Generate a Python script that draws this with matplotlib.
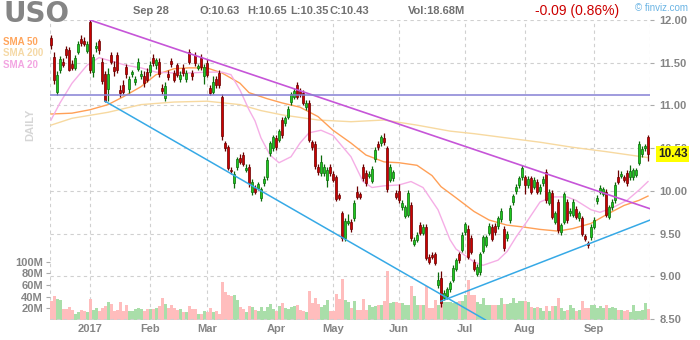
import numpy as np
import pandas as pd
import matplotlib
matplotlib.use("Agg")
import matplotlib.pyplot as plt
from matplotlib.ticker import FormatStrFormatter

# trading days shown on the chart
holidays = ["2016-12-26", "2017-01-02", "2017-01-16", "2017-02-20",
            "2017-04-14", "2017-05-29", "2017-07-04", "2017-09-04"]
dates = pd.bdate_range("2016-12-13", "2017-09-28")
dates = dates[~dates.isin(pd.to_datetime(holidays))]

opens = [
    11.79, 11.57, 11.16, 11.42, 11.51, 11.66, 11.65, 11.49, 11.44, 11.63,
    11.78, 11.75, 11.64, 11.98, 11.39, 11.67, 11.75, 11.51, 11.37, 11.19,
    11.59, 11.45, 11.59, 11.18, 11.24, 11.45, 11.19, 11.37, 11.27, 11.43,
    11.35, 11.34, 11.39, 11.39, 11.56, 11.47, 11.51, 11.21, 11.09, 11.37,
    11.52, 11.38, 11.47, 11.31, 11.44, 11.31, 11.63, 11.38, 11.59, 11.44,
    11.55, 11.34, 11.50, 11.20, 11.16, 11.31, 11.38, 11.10, 10.56, 10.51,
    10.25, 10.09, 10.28, 10.39, 10.42, 10.25, 10.28, 9.99, 10.04, 10.04,
    9.92, 10.09, 10.16, 10.44, 10.50, 10.62, 10.60, 10.83, 10.79, 10.87,
    11.04, 11.10, 11.24, 11.17, 11.15, 10.98, 11.03, 10.57, 10.55, 10.28,
    10.21, 10.21, 10.13, 10.28, 10.20, 10.16, 9.95, 9.74, 9.45, 9.63,
    9.64, 9.68, 9.99, 9.96, 10.28, 10.21, 10.18, 10.12, 10.37, 10.55,
    10.56, 10.62, 10.50, 10.13, 10.15, 9.98, 10.00, 9.81, 9.71, 9.72,
    9.84, 9.38, 9.43, 9.60, 9.51, 9.58, 9.23, 9.25, 9.26, 8.90,
    8.98, 8.75, 8.77, 8.85, 8.96, 9.09, 9.26, 9.31, 9.52, 9.56,
    9.45, 9.17, 9.03, 9.05, 9.30, 9.37, 9.51, 9.58, 9.59, 9.59,
    9.67, 9.56, 9.45, 9.66, 9.87, 10.00, 10.07, 10.16, 10.16, 10.07,
    10.15, 10.05, 10.11, 10.00, 10.09, 10.22, 9.86, 9.98, 9.64, 9.87,
    9.52, 9.64, 9.87, 9.74, 9.72, 9.79, 9.68, 9.68, 9.47, 9.39,
    9.46, 9.58, 9.88, 9.99, 9.97, 9.99, 9.70, 9.81, 9.89, 10.16,
    10.18, 10.16, 10.21, 10.16, 10.16, 10.19, 10.33, 10.43, 10.50, 10.63]

highs = [
    11.83, 11.62, 11.40, 11.58, 11.55, 11.70, 11.68, 11.53, 11.59, 11.75,
    11.82, 11.80, 11.76, 12.00, 11.60, 11.74, 11.78, 11.55, 11.40, 11.44,
    11.63, 11.52, 11.62, 11.24, 11.30, 11.48, 11.35, 11.42, 11.35, 11.56,
    11.42, 11.40, 11.44, 11.52, 11.60, 11.56, 11.55, 11.25, 11.27, 11.41,
    11.56, 11.42, 11.50, 11.40, 11.48, 11.42, 11.66, 11.42, 11.62, 11.49,
    11.60, 11.48, 11.54, 11.24, 11.35, 11.35, 11.42, 11.13, 10.59, 10.54,
    10.28, 10.23, 10.40, 10.43, 10.45, 10.32, 10.31, 10.14, 10.07, 10.11,
    10.05, 10.17, 10.40, 10.59, 10.66, 10.65, 10.73, 10.87, 10.88, 10.99,
    11.16, 11.20, 11.27, 11.21, 11.18, 11.06, 11.06, 10.60, 10.58, 10.31,
    10.42, 10.31, 10.28, 10.31, 10.23, 10.19, 9.98, 9.77, 9.68, 9.73,
    9.67, 9.89, 10.06, 9.99, 10.31, 10.24, 10.23, 10.29, 10.51, 10.58,
    10.66, 10.68, 10.53, 10.31, 10.25, 10.01, 10.08, 9.89, 9.84, 10.01,
    9.87, 9.46, 9.52, 9.64, 9.61, 9.61, 9.26, 9.28, 9.29, 9.05,
    9.06, 8.84, 8.88, 8.95, 9.13, 9.22, 9.29, 9.52, 9.64, 9.60,
    9.49, 9.20, 9.14, 9.29, 9.49, 9.49, 9.62, 9.61, 9.62, 9.71,
    9.80, 9.59, 9.53, 9.83, 9.97, 10.08, 10.18, 10.30, 10.19, 10.17,
    10.18, 10.16, 10.14, 10.08, 10.17, 10.26, 10.02, 10.01, 9.77, 9.90,
    9.63, 9.99, 9.90, 9.80, 9.90, 9.82, 9.77, 9.71, 9.50, 9.42,
    9.61, 9.69, 9.95, 10.07, 10.05, 10.02, 9.84, 9.90, 10.10, 10.25,
    10.23, 10.19, 10.24, 10.30, 10.27, 10.27, 10.58, 10.52, 10.55, 10.65]

lows = [
    11.66, 11.25, 11.12, 11.38, 11.45, 11.56, 11.40, 11.42, 11.41, 11.60,
    11.70, 11.69, 11.61, 11.38, 11.33, 11.63, 11.60, 11.25, 11.04, 11.05,
    11.48, 11.35, 11.38, 11.10, 11.13, 11.32, 11.15, 11.33, 11.24, 11.40,
    11.31, 11.22, 11.27, 11.35, 11.46, 11.43, 11.33, 11.13, 11.05, 11.30,
    11.45, 11.27, 11.33, 11.28, 11.35, 11.28, 11.48, 11.30, 11.46, 11.41,
    11.42, 11.25, 11.33, 11.12, 11.13, 11.21, 11.21, 10.60, 10.47, 10.24,
    10.20, 10.04, 10.25, 10.31, 10.29, 10.22, 10.05, 9.95, 9.96, 10.01,
    9.88, 10.06, 10.13, 10.41, 10.47, 10.48, 10.57, 10.62, 10.76, 10.84,
    11.01, 11.07, 11.07, 11.10, 11.00, 10.95, 10.57, 10.48, 10.26, 10.19,
    10.18, 10.18, 10.05, 10.18, 10.10, 9.88, 9.89, 9.42, 9.42, 9.60,
    9.52, 9.65, 9.90, 9.90, 10.12, 10.06, 10.15, 10.09, 10.34, 10.48,
    10.53, 10.54, 9.99, 10.10, 10.12, 9.90, 9.86, 9.78, 9.68, 9.69,
    9.42, 9.35, 9.40, 9.48, 9.48, 9.19, 9.14, 9.20, 9.13, 8.87,
    8.64, 8.72, 8.74, 8.82, 8.93, 9.06, 9.16, 9.28, 9.49, 9.20,
    9.26, 9.06, 9.00, 9.02, 9.27, 9.34, 9.48, 9.41, 9.49, 9.56,
    9.64, 9.30, 9.42, 9.63, 9.84, 9.97, 10.04, 10.13, 9.97, 10.04,
    9.96, 10.02, 9.96, 9.97, 10.06, 9.86, 9.83, 9.67, 9.61, 9.51,
    9.49, 9.61, 9.63, 9.71, 9.69, 9.67, 9.65, 9.47, 9.41, 9.33,
    9.43, 9.55, 9.85, 9.96, 9.94, 9.69, 9.67, 9.78, 9.86, 10.08,
    10.15, 10.10, 10.06, 10.13, 10.13, 10.16, 10.30, 10.40, 10.47, 10.35]

closes = [
    11.71, 11.30, 11.36, 11.54, 11.47, 11.59, 11.42, 11.44, 11.56, 11.72,
    11.73, 11.72, 11.72, 11.42, 11.57, 11.70, 11.65, 11.29, 11.05, 11.37,
    11.51, 11.40, 11.42, 11.15, 11.16, 11.37, 11.31, 11.39, 11.31, 11.51,
    11.37, 11.26, 11.30, 11.47, 11.50, 11.53, 11.37, 11.17, 11.23, 11.33,
    11.48, 11.30, 11.36, 11.36, 11.38, 11.38, 11.51, 11.34, 11.50, 11.46,
    11.45, 11.45, 11.36, 11.15, 11.28, 11.24, 11.24, 10.64, 10.50, 10.27,
    10.23, 10.20, 10.37, 10.34, 10.32, 10.27, 10.09, 10.11, 9.99, 10.08,
    10.02, 10.14, 10.36, 10.56, 10.63, 10.51, 10.70, 10.65, 10.85, 10.96,
    11.13, 11.17, 11.10, 11.13, 11.03, 11.03, 10.60, 10.51, 10.29, 10.22,
    10.34, 10.28, 10.25, 10.21, 10.13, 9.91, 9.92, 9.45, 9.65, 9.65,
    9.56, 9.86, 9.93, 9.93, 10.15, 10.09, 10.20, 10.26, 10.48, 10.51,
    10.63, 10.57, 10.02, 10.28, 10.22, 9.93, 9.89, 9.86, 9.81, 9.98,
    9.45, 9.43, 9.49, 9.51, 9.58, 9.22, 9.17, 9.23, 9.16, 8.96,
    8.69, 8.81, 8.85, 8.92, 9.10, 9.19, 9.19, 9.49, 9.61, 9.23,
    9.29, 9.09, 9.11, 9.26, 9.46, 9.46, 9.59, 9.44, 9.52, 9.68,
    9.77, 9.33, 9.50, 9.80, 9.94, 10.05, 10.15, 10.27, 10.07, 10.14,
    9.99, 10.13, 9.99, 10.05, 10.14, 9.89, 9.99, 9.70, 9.74, 9.54,
    9.60, 9.96, 9.66, 9.77, 9.87, 9.70, 9.74, 9.50, 9.44, 9.37,
    9.58, 9.66, 9.92, 10.04, 10.02, 9.72, 9.81, 9.87, 10.07, 10.11,
    10.20, 10.13, 10.09, 10.23, 10.24, 10.24, 10.55, 10.49, 10.52, 10.43]

# volume in millions
volume = [
    33, 41, 36, 34, 19, 19, 22, 17, 10, 14,
    17, 15, 14, 36, 17, 21, 15, 20, 24, 31,
    27, 16, 17, 31, 15, 26, 15, 16, 19, 21,
    19, 16, 19, 19, 19, 21, 24, 38, 27, 21,
    26, 21, 17, 19, 14, 14, 24, 19, 19, 10,
    10, 15, 14, 21, 14, 15, 10, 65, 48, 43,
    41, 43, 34, 22, 19, 14, 24, 22, 17, 15,
    22, 15, 22, 27, 19, 15, 24, 29, 21, 19,
    22, 24, 26, 17, 15, 14, 50, 29, 38, 27,
    22, 26, 34, 15, 15, 45, 36, 70, 34, 31,
    20, 33, 18, 18, 36, 17, 26, 23, 24, 25,
    26, 33, 84, 29, 31, 31, 30, 30, 26, 26,
    58, 41, 26, 26, 26, 58, 20, 20, 35, 26,
    70, 31, 31, 31, 29, 31, 33, 33, 43, 69,
    43, 43, 31, 27, 37, 26, 26, 25, 26, 25,
    37, 27, 27, 29, 37, 29, 33, 33, 33, 31,
    23, 20, 23, 21, 15, 24, 15, 24, 24, 37,
    21, 15, 18, 26, 21, 15, 17, 33, 20, 20,
    26, 25, 20, 24, 20, 25, 20, 23, 20, 17,
    18, 15, 18, 13, 25, 16, 16, 17, 30, 18.68]

# moving averages (bar number, value)
sma20_day = [0, 3, 7, 12, 16, 21, 25, 30, 35, 41, 46, 52, 57, 60, 63, 66, 68, 70, 73,
             76, 80, 83, 86, 90, 94, 100, 104, 107, 111, 116, 120, 124, 129, 133, 135,
             141, 144, 149, 152, 155, 159, 163, 167, 172, 175, 180, 183, 187, 192, 196, 199]
sma20_val = [10.83, 11.03, 11.26, 11.47, 11.56, 11.51, 11.47, 11.44, 11.39, 11.38, 11.38,
             11.39, 11.39, 11.36, 11.18, 10.95, 10.82, 10.62, 10.42, 10.33, 10.40, 10.56,
             10.68, 10.71, 10.65, 10.40, 10.11, 10.04, 10.06, 10.07, 10.11, 10.04, 9.78,
             9.43, 9.32, 9.17, 9.13, 9.19, 9.29, 9.46, 9.66, 9.87, 9.93, 9.93, 9.89, 9.78,
             9.75, 9.80, 9.89, 10.01, 10.11]
sma50_day = [0, 7, 13, 19, 24, 30, 35, 41, 46, 52, 57, 63, 66, 72, 77, 83, 89, 94, 100,
             105, 111, 116, 122, 127, 130, 135, 141, 146, 152, 157, 163, 169, 174, 180,
             185, 191, 196, 199]
sma50_val = [10.90, 10.91, 10.95, 11.01, 11.10, 11.22, 11.36, 11.43, 11.44, 11.44, 11.38,
             11.26, 11.15, 11.08, 11.03, 10.98, 10.87, 10.71, 10.56, 10.42, 10.34, 10.33,
             10.30, 10.18, 10.05, 9.92, 9.76, 9.66, 9.60, 9.58, 9.55, 9.53, 9.56, 9.62,
             9.72, 9.83, 9.89, 9.94]
sma200_day = [0, 7, 19, 30, 41, 52, 63, 70, 77, 89, 100, 111, 122, 133, 141, 152, 163,
              174, 185, 199]
sma200_val = [10.77, 10.85, 10.92, 11.01, 11.04, 11.05, 11.01, 10.94, 10.89, 10.83, 10.81,
              10.83, 10.77, 10.70, 10.67, 10.62, 10.57, 10.51, 10.46, 10.39]

# trendlines: two anchors (bar number, price) each
resist_anchor = [(13, 12.00), (199, 9.80)]
support_down_anchor = [(18, 11.05), (130, 8.79)]
support_up_anchor = [(130, 8.71), (199, 9.65)]
level_price = 11.12

opens, highs, lows, closes = map(np.array, (opens, highs, lows, closes))
volume = np.array(volume)
n = len(dates)
idx = np.arange(n)
up = closes >= opens

W, H = 700, 340
fig = plt.figure(figsize=(7, 3.4), dpi=100)
rect = [50 / W, 20 / H, 600 / W, 300 / H]
axv = fig.add_axes(rect)
ax = fig.add_axes(rect)
ax.patch.set_visible(False)
xlim = (-1 / 3, n - 1 / 3)

lab_font = dict(family="Liberation Sans", weight="bold", size=8, color="#858585")
grid_kw = dict(color="#d0d0d0", lw=0.8, ls=(0, (3, 3)))

# month positions
month_start = [i for i in range(1, n) if dates[i].month != dates[i - 1].month]
month_lab = ["2017" if dates[i].month == 1 else dates[i].strftime("%b") for i in month_start]

# volume panel (behind)
axv.bar(idx, volume, width=1.0, color=np.where(up, "#a9dea9", "#ffbdbd"), lw=0, zorder=2)
axv.set_xlim(*xlim)
axv.set_ylim(0, 514.6)
axv.set_yticks([20, 40, 60, 80, 100])
axv.set_yticklabels([f"{v}M" for v in [20, 40, 60, 80, 100]], fontdict=lab_font)
axv.tick_params(axis="y", length=3, color="#aaaaaa", pad=2)
axv.set_xticks(month_start)
axv.tick_params(axis="x", length=0, labelbottom=False)
for x in month_start + [xlim[0] + 0.1, xlim[1] - 0.1]:
    axv.axvline(x, zorder=0, **grid_kw)
for s in axv.spines.values():
    s.set_visible(False)

# price panel
ax.set_xlim(*xlim)
ax.set_ylim(8.49, 12.0)
for p in np.arange(8.5, 12.01, 0.5):
    ax.axhline(p, zorder=0, **grid_kw)

ax.plot(sma200_day, sma200_val, color="#f7d9a0", lw=1.0, zorder=2)
ax.plot(sma50_day, sma50_val, color="#ffa057", lw=1.0, zorder=2)
ax.plot(sma20_day, sma20_val, color="#f5aee6", lw=1.0, zorder=2)

edge = np.where(up, "#0b6b0b", "#6b0000")
fill = np.where(up, "#1fc81f", "#cc0000")
ax.vlines(idx, lows, highs, colors=edge, lw=0.9, zorder=3)
body = np.where(np.abs(closes - opens) < 0.012, 0.012, closes - opens)
ax.bar(idx, body, bottom=opens, width=0.75, color=fill, edgecolor=edge, lw=0.5, zorder=4)


def trend(anchor, x0, x1):
    (a, pa), (b, pb) = anchor
    k = (pb - pa) / (b - a)
    xs = np.array([x0, x1])
    return xs, pa + k * (xs - a)


xs, ys = trend(resist_anchor, 13, xlim[1])
ax.plot(xs, ys, color="#c655d8", lw=1.2, zorder=5)
xs, ys = trend(support_down_anchor, 18, 146)
ax.plot(xs, ys, color="#36a9e6", lw=1.1, zorder=5)
xs, ys = trend(support_up_anchor, 130, xlim[1])
ax.plot(xs, ys, color="#36a9e6", lw=1.1, zorder=5)
ax.axhline(level_price, color="#8580d4", lw=1.1, zorder=5)

ax.yaxis.tick_right()
ax.set_yticks(np.arange(8.5, 12.01, 0.5))
ax.yaxis.set_major_formatter(FormatStrFormatter("%.2f"))
for t in ax.get_yticklabels():
    t.set(**lab_font)
ax.tick_params(axis="y", length=3, color="#aaaaaa", pad=4)
ax.set_xticks(month_start)
ax.set_xticklabels(month_lab, fontdict=lab_font)
ax.tick_params(axis="x", length=0, pad=3)
for s in ax.spines.values():
    s.set_visible(False)

# last price tag, drawn over the 10.50 tick label as in the original
ax.text(1.013, closes[-1], f"{closes[-1]:.2f}", transform=ax.get_yaxis_transform(),
        ha="left", va="center", family="Liberation Sans", weight="bold", size=8.5,
        color="#222222", zorder=10, clip_on=False,
        bbox=dict(boxstyle="square,pad=0.15", fc="#ffff00", ec="none"))

# header
def px(x, y):
    return x / W, 1 - y / H


hdr = dict(family="Liberation Sans", weight="bold", size=8, color="#707070", va="center")
fig.text(*px(4, 14), "USO", family="DejaVu Sans", weight="bold", size=20,
         color="#858585", va="center", ha="left")
fig.text(*px(133, 11), dates[-1].strftime("%b %d").replace(" 0", " "), **hdr)
fig.text(*px(200, 11), f"O:{opens[-1]:.2f}", **hdr)
fig.text(*px(247, 11), f"H:{highs[-1]:.2f}", **hdr)
fig.text(*px(290, 11), f"L:{lows[-1]:.2f}", **hdr)
fig.text(*px(329, 11), f"C:{closes[-1]:.2f}", **hdr)
fig.text(*px(408, 11), f"Vol:{volume[-1]:.2f}M", **hdr)
chg = closes[-1] - closes[-2]
fig.text(*px(535, 11), f"{chg:.2f} ({abs(chg) / closes[-2] * 100:.2f}%)",
         family="Liberation Sans", size=10, color="#cc0000", va="center")
fig.text(*px(635, 8), "© finviz.com", family="Liberation Sans", size=7,
         color="#6ab4e4", va="center")

sma_font = dict(family="Liberation Sans", weight="bold", size=7, va="center", ha="left")
fig.text(*px(3, 42), "SMA 50", color="#ffa55c", **sma_font)
fig.text(*px(3, 53), "SMA 200", color="#f5d9a6", **sma_font)
fig.text(*px(3, 65), "SMA 20", color="#f3a6e2", **sma_font)
fig.text(*px(30, 125), "DAILY", rotation=90, family="Liberation Sans", weight="bold",
         size=8, color="#d6d6d6", ha="center", va="center")

fig.savefig("out.png", dpi=100, facecolor="white")
